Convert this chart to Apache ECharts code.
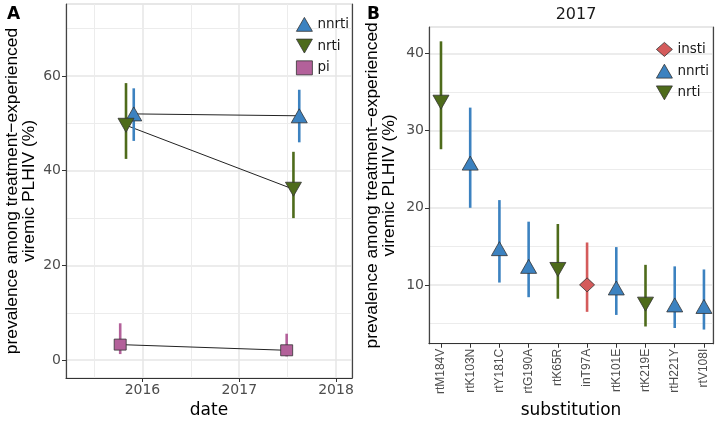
<!DOCTYPE html>
<html>
<head>
<meta charset="utf-8">
<script src="https://cdn.jsdelivr.net/npm/echarts@6/dist/echarts.min.js"></script>
<style>
  html, body { margin: 0; padding: 0; background: #fff; }
  #chart { width: 720px; height: 424px; }
</style>
</head>
<body>
<div id="chart"></div>
<script>
// ---- panel A: prevalence over time (dodged dates) ----
var nnrtiDate = [2015.91, 2017.62];
var nnrtiVal = [52.0, 51.6];
var nnrtiLo = [46.3, 46.0];
var nnrtiHi = [57.4, 57.1];

var nrtiDate = [2015.83, 2017.56];
var nrtiVal = [49.6, 36.1];
var nrtiLo = [42.5, 30.0];
var nrtiHi = [58.5, 44.0];

var piDate = [2015.77, 2017.49];
var piVal = [3.3, 2.1];
var piLo = [1.3, 0.8];
var piHi = [7.8, 5.6];

var yearTicks = [2016, 2017, 2018];
var yearMinor = [2015.5, 2016.5, 2017.5];
var prevTicksA = [0, 20, 40, 60];
var prevMinorA = [10, 30, 50, 70];

// ---- panel B: 2017 substitutions ----
var substitutions = ['rtM184V', 'rtK103N', 'rtY181C', 'rtG190A', 'rtK65R', 'inT97A', 'rtK101E', 'rtK219E', 'rtH221Y', 'rtV108I'];
var drugClass = ['nrti', 'nnrti', 'nnrti', 'nnrti', 'nrti', 'insti', 'nnrti', 'nrti', 'nnrti', 'nnrti'];
var prevB = [33.7, 25.8, 14.7, 12.4, 12.0, 10.0, 9.6, 7.5, 7.4, 7.2];
var lowB = [27.6, 20.0, 10.3, 8.4, 8.2, 6.5, 6.1, 4.6, 4.4, 4.2];
var highB = [41.6, 33.0, 21.0, 18.2, 17.9, 15.5, 14.9, 12.6, 12.4, 12.0];
var prevTicksB = [10, 20, 30, 40];
var prevMinorB = [5, 15, 25, 35];

var colors = { insti: '#d45b5b', nnrti: '#3c82c0', nrti: '#4e6b1b', pi: '#b3619a' };
var downTri = 'path://M0,0 L10,0 L5,8.7 Z';
var upTri = 'path://M5,0 L10,8.7 L0,8.7 Z';
var shapes = { insti: 'diamond', nnrti: upTri, nrti: downTri, pi: 'rect' };
var sizes = { insti: [15, 14], nnrti: [16, 14], nrti: [16, 14], pi: [12, 11] };

var myChart = echarts.init(document.getElementById('chart'));

function zip(a, b) {
  return a.map(function (v, i) { return [v, b[i]]; });
}
function ranges(x, lo, hi) {
  return x.map(function (v, i) { return [v, lo[i], hi[i]]; });
}
// minor grid lines, drawn from values through the axes
function minorGrid(xs, ys) {
  return {
    silent: true, symbol: 'none', z: 0, animation: false,
    label: { show: false },
    emphasis: { disabled: true },
    lineStyle: { color: '#ececec', width: 1, type: 'solid' },
    data: xs.map(function (v) { return { xAxis: v }; }).concat(ys.map(function (v) { return { yAxis: v }; }))
  };
}
// vertical error bars
function barSeries(idx, data, color, minor) {
  return {
    type: 'custom', xAxisIndex: idx, yAxisIndex: idx, z: 2, silent: true,
    encode: { x: 0, y: [1, 2] },
    renderItem: function (params, api) {
      var p1 = api.coord([api.value(0), api.value(1)]);
      var p2 = api.coord([api.value(0), api.value(2)]);
      return { type: 'line', shape: { x1: p1[0], y1: p1[1], x2: p2[0], y2: p2[1] },
        style: { stroke: typeof color === 'function' ? color(params.dataIndex) : color, lineWidth: 2.6 } };
    },
    markLine: minor,
    data: data
  };
}
function pointSeries(idx, name, data) {
  return {
    name: name, type: 'scatter', xAxisIndex: idx, yAxisIndex: idx, z: 4,
    symbol: shapes[name], symbolSize: sizes[name],
    itemStyle: { color: colors[name], borderColor: '#333', borderWidth: 0.8, opacity: 1 },
    data: data
  };
}
function lineSeries(name, x, y) {
  return {
    name: name + '-line', type: 'line', xAxisIndex: 0, yAxisIndex: 0, z: 1,
    showSymbol: false, lineStyle: { color: '#222', width: 1 }, silent: true,
    data: zip(x, y)
  };
}

var wide = 'DejaVu Sans';
var tall = 'Liberation Sans';
var tickFont = { color: '#4d4d4d', fontSize: 14, fontFamily: wide };
var titleFont = { color: '#000', fontSize: 17, fontFamily: wide };
var yTitleFont = { color: '#000', fontSize: 17.4, fontFamily: tall, lineHeight: 17 };
var yName = 'prevalence among treatment\u2212experienced\nviremic PLHIV (%)';
var legendText = { fontSize: 13.5, color: '#1a1a1a', fontFamily: wide };

myChart.setOption({
  animation: false,
  textStyle: { fontFamily: wide },
  title: [
    { text: 'A', left: 2, top: 1, textStyle: { fontSize: 17, fontWeight: 'bold', color: '#000', fontFamily: wide } },
    { text: 'B', left: 362, top: 1, textStyle: { fontSize: 17, fontWeight: 'bold', color: '#000', fontFamily: wide } },
    { text: '2017', left: 571, top: 2, textAlign: 'center', textStyle: { fontSize: 16, fontWeight: 'normal', color: '#1a1a1a', fontFamily: wide } }
  ],
  grid: [
    { left: 66, top: 4, right: 368, bottom: 41, show: true, borderColor: '#cfcfcf', borderWidth: 1 },
    { left: 429, top: 27, right: 7, bottom: 76, show: true, borderColor: '#cfcfcf', borderWidth: 1 }
  ],
  legend: [
    {
      orient: 'vertical', left: 291, top: 12, itemWidth: 16, itemHeight: 14, itemGap: 7,
      itemStyle: { borderWidth: 0.8 },
      textStyle: legendText, data: ['nnrti', 'nrti', 'pi']
    },
    {
      orient: 'vertical', left: 651, top: 37, itemWidth: 16, itemHeight: 14, itemGap: 7,
      itemStyle: { borderWidth: 0.8 },
      textStyle: legendText, data: ['insti', 'nnrti', 'nrti']
    }
  ],
  xAxis: [
    {
      gridIndex: 0, type: 'value', min: 2015.21, max: 2018.165,
      name: 'date', nameLocation: 'middle', nameGap: 24, nameTextStyle: titleFont,
      axisLine: { show: true, onZero: false, lineStyle: { color: '#333', width: 1.2 } },
      axisTick: { show: true, length: 4, lineStyle: { color: '#333' }, customValues: yearTicks },
      axisLabel: Object.assign({ margin: 5, customValues: yearTicks,
        formatter: function (v) { return String(v); } }, tickFont),
      splitLine: { show: true, lineStyle: { color: '#e6e6e6', width: 1.5 } }
    },
    {
      gridIndex: 1, type: 'value', min: -0.41, max: 9.31,
      name: 'substitution', nameLocation: 'middle', nameGap: 58, nameTextStyle: titleFont,
      axisLine: { show: true, onZero: false, lineStyle: { color: '#333', width: 1.2 } },
      axisTick: { show: true, length: 4, lineStyle: { color: '#333' }, customValues: substitutions.map(function (s, i) { return i; }) },
      axisLabel: { margin: 5, rotate: 90, fontSize: 12, fontFamily: tall, color: '#4d4d4d',
        customValues: substitutions.map(function (s, i) { return i; }),
        formatter: function (v) { return substitutions[Math.round(v)]; } },
      splitLine: { show: false }
    }
  ],
  yAxis: [
    {
      gridIndex: 0, type: 'value', min: -3.75, max: 75.2,
      name: yName, nameLocation: 'middle', nameGap: 28, nameRotate: 90, nameTextStyle: yTitleFont,
      axisLine: { show: true, onZero: false, lineStyle: { color: '#444', width: 1.2 } },
      axisTick: { show: true, length: 4, lineStyle: { color: '#333' }, customValues: prevTicksA },
      axisLabel: Object.assign({ margin: 5, customValues: prevTicksA }, tickFont),
      splitLine: { show: true, lineStyle: { color: '#e6e6e6', width: 1.5 } }
    },
    {
      gridIndex: 1, type: 'value', min: 2.36, max: 43.46,
      name: yName, nameLocation: 'middle', nameGap: 31, nameRotate: 90, nameTextStyle: yTitleFont,
      axisLine: { show: true, onZero: false, lineStyle: { color: '#444', width: 1.2 } },
      axisTick: { show: true, length: 4, lineStyle: { color: '#333' }, customValues: prevTicksB },
      axisLabel: Object.assign({ margin: 5, customValues: prevTicksB }, tickFont),
      splitLine: { show: true, lineStyle: { color: '#e6e6e6', width: 1.5 } }
    },
    {
      gridIndex: 0, type: 'value', position: 'right',
      axisLine: { show: true, onZero: false, lineStyle: { color: '#444', width: 1.2 } },
      axisTick: { show: false }, axisLabel: { show: false }, splitLine: { show: false }
    },
    {
      gridIndex: 1, type: 'value', position: 'right',
      axisLine: { show: true, onZero: false, lineStyle: { color: '#444', width: 1.2 } },
      axisTick: { show: false }, axisLabel: { show: false }, splitLine: { show: false }
    }
  ],
  series: [
    lineSeries('nnrti', nnrtiDate, nnrtiVal),
    lineSeries('nrti', nrtiDate, nrtiVal),
    lineSeries('pi', piDate, piVal),
    barSeries(0, ranges(piDate, piLo, piHi), colors.pi, minorGrid(yearMinor, prevMinorA)),
    barSeries(0, ranges(nrtiDate, nrtiLo, nrtiHi), colors.nrti),
    barSeries(0, ranges(nnrtiDate, nnrtiLo, nnrtiHi), colors.nnrti),
    pointSeries(0, 'nnrti', zip(nnrtiDate, nnrtiVal)),
    pointSeries(0, 'nrti', zip(nrtiDate, nrtiVal)),
    pointSeries(0, 'pi', zip(piDate, piVal)),
    barSeries(1, ranges(substitutions.map(function (s, i) { return i; }), lowB, highB),
      function (i) { return colors[drugClass[i]]; }, minorGrid([], prevMinorB)),
    pointSeries(1, 'insti', prevB.map(function (v, i) { return [i, v]; }).filter(function (d, i) { return drugClass[i] === 'insti'; })),
    pointSeries(1, 'nnrti', prevB.map(function (v, i) { return [i, v]; }).filter(function (d, i) { return drugClass[i] === 'nnrti'; })),
    pointSeries(1, 'nrti', prevB.map(function (v, i) { return [i, v]; }).filter(function (d, i) { return drugClass[i] === 'nrti'; }))
  ]
});
</script>
</body>
</html>
